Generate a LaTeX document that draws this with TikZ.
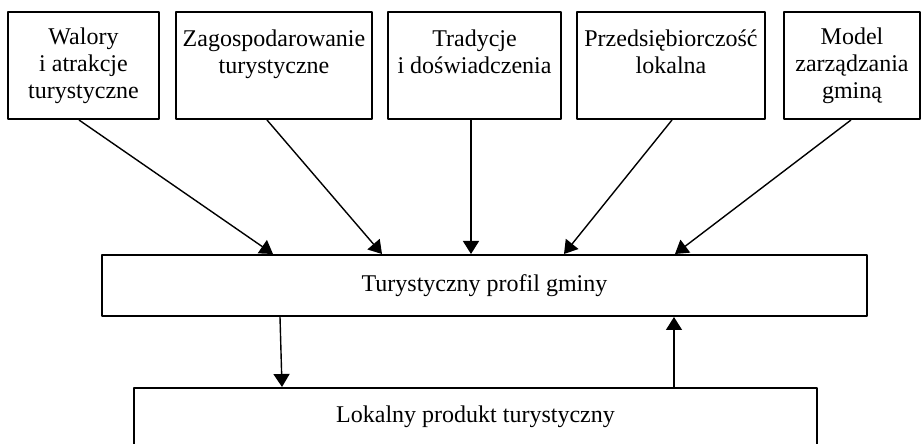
\documentclass[tikz,border=0pt]{standalone}
\usepackage{fontspec}
\setmainfont{Liberation Serif}
\usetikzlibrary{arrows.meta}
\tikzset{
  box/.style={draw,line width=1pt,inner sep=1pt,align=center,font=\fontsize{12}{13.5}\selectfont},
  arr/.style={-{Triangle[length=6.5pt,width=8pt]},line width=0.7pt}
}
\begin{document}
\begin{tikzpicture}[x=0.5pt,y=-0.5pt, line join=round]
  \useasboundingbox (0,0) rectangle (923,444);
  % czynniki
  \node[box,minimum width=75.5pt,minimum height=53.5pt] (walory) at (83.5,65.5) {Walory\\i atrakcje\\turystyczne};
  \node[box,minimum width=98pt,minimum height=53.5pt] (zagosp) at (274,65.5) {Zagospodarowanie\\turystyczne\\\mbox{}};
  \node[box,minimum width=86.5pt,minimum height=53.5pt] (tradycje) at (474.5,65.5) {Tradycje\\i doświadczenia\\\mbox{}};
  \node[box,minimum width=94pt,minimum height=53.5pt] (przeds) at (671,65.5) {Przedsiębiorczość\\lokalna\\\mbox{}};
  \node[box,minimum width=68pt,minimum height=53.5pt] (model) at (852,65.5) {Model\\zarządzania\\gminą};
  % profil i produkt
  \node[box,minimum width=382.5pt,minimum height=30.5pt] (profil) at (484.5,285.5) {Turystyczny profil gminy};
  \node[box,minimum width=341.5pt,minimum height=29pt] (produkt) at (475.5,417) {Lokalny produkt turystyczny};
  \draw[arr] (walory.south -| 79,0) -- (profil.north -| 273,0);
  \draw[arr] (zagosp.south -| 267,0) -- (profil.north -| 382,0);
  \draw[arr] (tradycje.south -| 471,0) -- (profil.north -| 471,0);
  \draw[arr] (przeds.south -| 672,0) -- (profil.north -| 564,0);
  \draw[arr] (model.south -| 851,0) -- (profil.north -| 675,0);
  \draw[arr] (profil.south -| 280,0) -- (produkt.north -| 282,0);
  \draw[arr] (produkt.north -| 674,0) -- (profil.south -| 674,0);
\end{tikzpicture}
\end{document}
